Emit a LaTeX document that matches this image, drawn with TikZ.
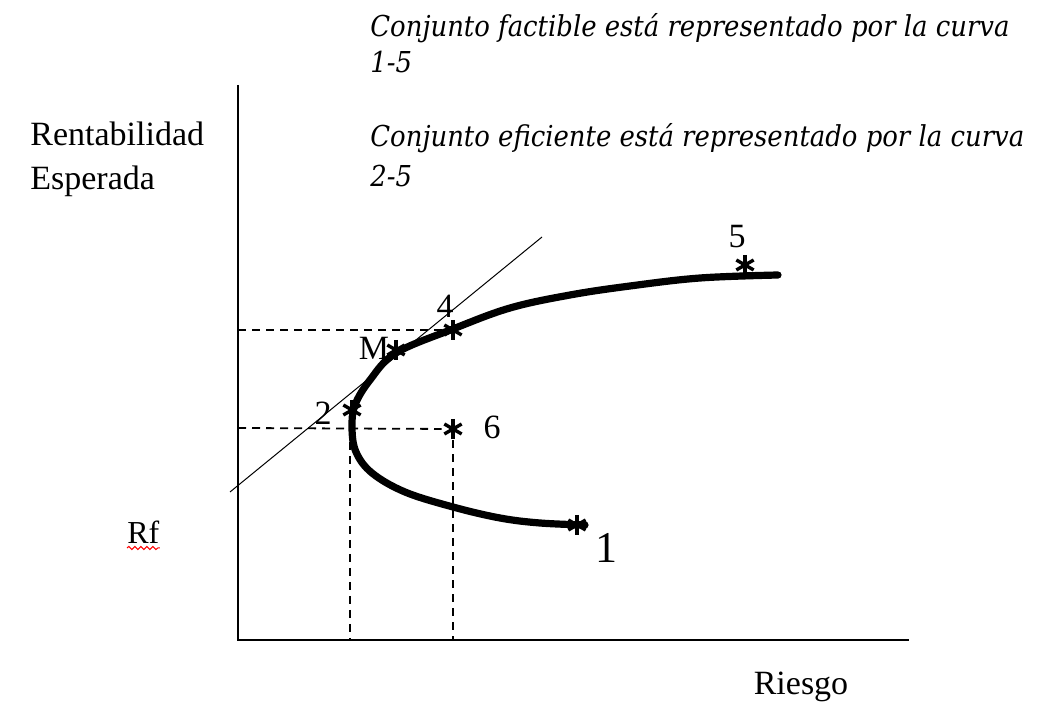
\documentclass[tikz,border=0pt]{standalone}
\usepackage{fontspec}
\setmainfont{Liberation Serif}
\newfontfamily\notafont{DejaVu Serif Condensed Italic}
\usetikzlibrary{decorations.pathmorphing}

\tikzset{
  pto/.style={inner sep=0pt, minimum size=11pt, path picture={
    \foreach \a in {90,30,-30}
      \draw[line width=1.7pt, shift={(path picture bounding box.center)}] (\a:5pt) -- (\a+180:5pt);}},
  etq/.style={font=\fontsize{17}{20}\selectfont, inner sep=0pt},
  nota/.style={font=\notafont\fontsize{14.4}{16}\selectfont, anchor=base west, inner sep=0pt},
  guia/.style={dash pattern=on 4pt off 3pt, line width=0.9pt}
}

\begin{document}
\begin{tikzpicture}[x=0.5pt, y=-0.5pt]
\useasboundingbox (0,0) rectangle (1044,704);
\coordinate (o) at (238,640);
\coordinate (ytop) at (238,85);
\coordinate (xend) at (909,640);
\coordinate (v2) at (350,428);
\coordinate (t0) at (230,492);
\coordinate (t1) at (542,237);

\draw[line width=1pt] (ytop) -- (o) -- (xend);
\draw[line width=0.5pt] (t0) -- (t1);

\draw[line width=3.6pt, line cap=round, line join=round] plot[smooth, tension=0.6] coordinates {
  (585,525) (540,523) (500,518) (453,507) (405,492) (372,473) (356,452) (352,428)
  (355,405) (370,380) (396,353) (453,329) (510,308) (570,295) (630,286) (700,278) (778,275)};

\node[pto] (p1) at (577,525) {};
\node[pto] (p2) at (352,410) {};
\node[pto] (pM) at (396,350) {};
\node[pto] (p4) at (453,330) {};
\node[pto] (p5) at (745,265) {};
\node[pto] (p6) at (453,429) {};

\draw[guia] (o |- p4) -- (p4);
\draw[guia] (o |- v2) -- (p6);
\draw[guia] (v2) -- (v2 |- o);
\draw[guia] (p6) -- (p6 |- o);

\node[etq, font=\fontsize{22}{24}\selectfont] (l1) at (606,548) {1};
\node[etq] (l2) at (323,413) {2};
\node[etq] (lM) at (374,348) {M};
\node[etq] (l4) at (445,306) {4};
\node[etq] (l5) at (737,237) {5};
\node[etq] (l6) at (492,427) {6};

\node[etq, anchor=base west] (rent) at (30,146) {Rentabilidad};
\node[etq, anchor=base west] (esp) at (30,190) {Esperada};
\node[etq, anchor=base] (riesgo) at (801,695) {Riesgo};
\node[etq, font=\fontsize{16}{18}\selectfont, anchor=base west] (rf) at (127,544) {Rf};
\draw[red, line width=0.5pt, decorate, decoration={snake, amplitude=0.8pt, segment length=3pt}]
  ([yshift=-2pt]rf.base west) -- ([yshift=-2pt]rf.base east);

\node[nota] (n1) at (370,37) {Conjunto factible está representado por la curva};
\node[nota] (n2) at (370,73) {1-5};
\node[nota] (n3) at (370,147) {Conjunto eficiente está representado por la curva};
\node[nota] (n4) at (370,187) {2-5};
\end{tikzpicture}
\end{document}
